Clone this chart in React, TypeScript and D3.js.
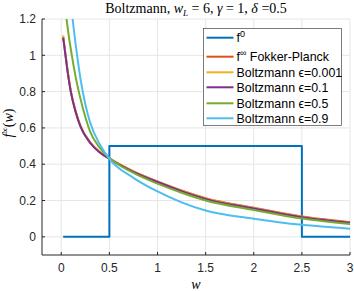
import React from "react";
import * as d3 from "d3";

const xTicks = [0, 0.5, 1, 1.5, 2, 2.5, 3];
const yTicks = [0, 0.2, 0.4, 0.6, 0.8, 1, 1.2];

const f0W = [0.02, 0.5, 0.5, 2.5, 2.5, 3];
const f0V = [0, 0, 0.5, 0.5, 0, 0];

const fpW = [0.02, 0.045, 0.07, 0.1, 0.15, 0.2, 0.3, 0.4, 0.5, 0.75, 1, 1.25, 1.5, 2, 2.5, 3];
const fpV = [1.1, 1.0, 0.9, 0.8, 0.69, 0.61, 0.52, 0.467, 0.432, 0.36, 0.305, 0.255, 0.213, 0.16, 0.112, 0.081];
const e001V = [1.11, 1.0, 0.9, 0.8, 0.69, 0.61, 0.52, 0.467, 0.432, 0.36, 0.304, 0.254, 0.212, 0.159, 0.111, 0.079];
const e01V = [1.097, 0.995, 0.895, 0.797, 0.687, 0.607, 0.518, 0.465, 0.43, 0.358, 0.302, 0.252, 0.209, 0.156, 0.108, 0.077];

const e05W = [0.055, 0.08, 0.11, 0.15, 0.2, 0.25, 0.3, 0.4, 0.5, 0.75, 1, 1.25, 1.5, 2, 2.5, 3];
const e05V = [1.2, 1.1, 1.0, 0.88, 0.76, 0.66, 0.58, 0.49, 0.435, 0.352, 0.293, 0.243, 0.2, 0.148, 0.101, 0.071];

const e09W = [0.118, 0.14, 0.165, 0.2, 0.25, 0.3, 0.4, 0.5, 0.75, 1, 1.25, 1.5, 2, 2.5, 3];
const e09V = [1.2, 1.1, 1.0, 0.87, 0.73, 0.63, 0.51, 0.43, 0.325, 0.25, 0.19, 0.145, 0.1, 0.066, 0.045];

const legendLabels = ["f0", "fFP", "Boltzmann ϵ=0.001", "Boltzmann ϵ=0.1", "Boltzmann  ϵ=0.5", " Boltzmann ϵ=0.9"];

const colors = ["#0072BD", "#D95319", "#EDB120", "#7E2F8E", "#77AC30", "#4DBEEE"];

export default function App() {
  const left = 42, right = 350, top = 19, bottom = 255;
  const x = d3.scaleLinear().domain([-0.2, 3]).range([left, right]);
  const y = d3.scaleLinear().domain([-0.1, 1.2]).range([bottom, top]);
  const smooth = d3.line<[number, number]>().x(d => x(d[0])).y(d => y(d[1])).curve(d3.curveMonotoneX);
  const straight = d3.line<[number, number]>().x(d => x(d[0])).y(d => y(d[1]));
  const zip = (a: number[], b: number[]) => a.map((v, i) => [v, b[i]] as [number, number]);

  const series = [
    { d: straight(zip(f0W, f0V)), c: colors[0] },
    { d: smooth(zip(fpW, fpV)), c: colors[1] },
    { d: smooth(zip(fpW, e001V)), c: colors[2] },
    { d: smooth(zip(fpW, e01V)), c: colors[3] },
    { d: smooth(zip(e05W, e05V)), c: colors[4] },
    { d: smooth(zip(e09W, e09V)), c: colors[5] },
  ];

  const axisColor = "#262626";
  const sans = "'Liberation Sans', Arial, sans-serif";
  const serif = "'Liberation Serif', 'Times New Roman', serif";
  const legY = [37.7, 56.7, 72.3, 87.3, 103.3, 118.3];

  return (
    <svg width={354} height={291} style={{ position: "absolute", left: 0, top: 0 }}>
      <rect width={354} height={291} fill="#fff" />
      <defs>
        <clipPath id="plot">
          <rect x={left} y={top} width={right - left} height={bottom - top} />
        </clipPath>
      </defs>
      {xTicks.map(t => (
        <line key={"gx" + t} x1={x(t)} x2={x(t)} y1={top} y2={bottom} stroke="#e6e6e6" strokeWidth={1} />
      ))}
      {yTicks.map(t => (
        <line key={"gy" + t} x1={left} x2={right} y1={y(t)} y2={y(t)} stroke="#e6e6e6" strokeWidth={1} />
      ))}
      <g clipPath="url(#plot)">
        {series.map((s, i) => (
          <path key={i} d={s.d || ""} fill="none" stroke={s.c} strokeWidth={2} strokeLinejoin="round" />
        ))}
      </g>
      <line x1={left} x2={left} y1={top} y2={bottom} stroke={axisColor} strokeWidth={1} />
      <line x1={left} x2={right} y1={bottom} y2={bottom} stroke={axisColor} strokeWidth={1} />
      {yTicks.map(t => (
        <g key={"yt" + t}>
          <line x1={left} x2={left + 3} y1={y(t)} y2={y(t)} stroke={axisColor} />
          <text x={left - 6} y={y(t)} dy="0.35em" textAnchor="end" fontFamily={sans} fontSize={12} fill={axisColor}>
            {String(t)}
          </text>
        </g>
      ))}
      {xTicks.map(t => (
        <g key={"xt" + t}>
          <line x1={x(t)} x2={x(t)} y1={bottom} y2={bottom - 3} stroke={axisColor} />
          <text x={x(t)} y={bottom + 13} dy="0.35em" textAnchor="middle" fontFamily={sans} fontSize={12} fill={axisColor}>
            {String(t)}
          </text>
        </g>
      ))}
      <text x={(left + right) / 2} y={289} textAnchor="middle" fontFamily={serif} fontStyle="italic" fontSize={14} fill="#000">w</text>
      <text transform="translate(13,123) rotate(-90)" textAnchor="middle" fontFamily={serif} fontSize={14} fill="#000">
        <tspan fontStyle="italic">f</tspan>
        <tspan fontSize={9} dy={-5}>∞</tspan>
        <tspan dy={5}>(</tspan>
        <tspan fontStyle="italic">w</tspan>
        <tspan>)</tspan>
      </text>
      <text x={196} y={13} textAnchor="middle" fontFamily={serif} fontSize={14} fill="#000">
        <tspan>Boltzmann, </tspan>
        <tspan fontStyle="italic">w</tspan>
        <tspan fontStyle="italic" fontSize={9} dy={3}>L</tspan>
        <tspan dy={-3}> = 6, </tspan>
        <tspan fontStyle="italic">γ</tspan>
        <tspan> = 1, </tspan>
        <tspan fontStyle="italic">δ</tspan>
        <tspan> =0.5</tspan>
      </text>
      <rect x={203.5} y={28.5} width={138} height={97} fill="#fff" stroke={axisColor} strokeWidth={0.6} />
      {legendLabels.map((lab, i) => (
        <g key={"lg" + i}>
          <line x1={206.5} x2={233.5} y1={legY[i]} y2={legY[i]} stroke={colors[i]} strokeWidth={2} />
          <text x={236.5} y={legY[i]} dy="0.38em" fontFamily={sans} fontSize={12.4} fill="#000">
            {i === 0 ? (
              <>
                <tspan>f</tspan>
                <tspan fontSize={9} dy={-5}>0</tspan>
              </>
            ) : i === 1 ? (
              <>
                <tspan>f</tspan>
                <tspan fontSize={9} dy={-5}>∞</tspan>
                <tspan dy={5}> Fokker-Planck</tspan>
              </>
            ) : (
              lab
            )}
          </text>
        </g>
      ))}
    </svg>
  );
}
